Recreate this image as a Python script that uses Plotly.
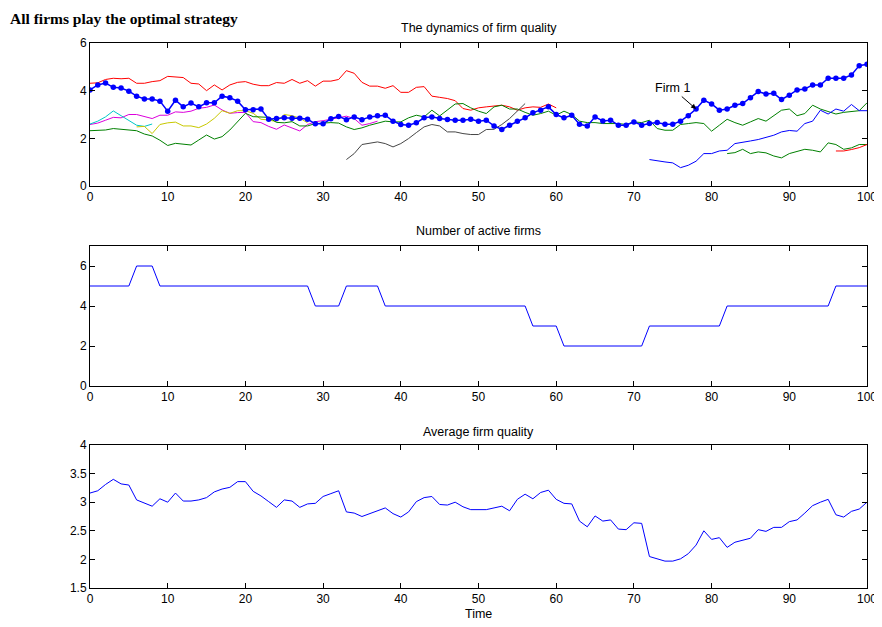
import plotly.graph_objects as go

# ---------------- data ----------------
time_all = list(range(0, 101))

firm1_q = [4.03, 4.24, 4.32, 4.14, 4.11, 3.98, 3.77, 3.65, 3.65, 3.56,
           3.14, 3.60, 3.32, 3.48, 3.32, 3.49, 3.49, 3.77, 3.70, 3.56,
           3.20, 3.20, 3.23, 2.80, 2.83, 2.86, 2.84, 2.84, 2.80, 2.61,
           2.61, 2.82, 2.92, 2.78, 2.90, 2.78, 2.90, 2.95, 2.97, 2.72,
           2.58, 2.55, 2.65, 2.86, 2.90, 2.83, 2.79, 2.76, 2.76, 2.80,
           2.72, 2.76, 2.52, 2.37, 2.55, 2.72, 2.86, 3.07, 3.18, 3.32,
           3.00, 2.86, 2.97, 2.59, 2.52, 2.90, 2.73, 2.76, 2.55, 2.55,
           2.69, 2.55, 2.62, 2.66, 2.59, 2.59, 2.72, 2.95, 3.23, 3.60,
           3.44, 3.18, 3.23, 3.39, 3.46, 3.70, 3.96, 3.86, 3.89, 3.63,
           3.81, 4.03, 4.07, 4.24, 4.24, 4.52, 4.52, 4.52, 4.66, 5.05,
           5.11]

red_start = 0
red_q = [4.31, 4.33, 4.47, 4.52, 4.50, 4.52, 4.31, 4.31, 4.38, 4.42,
         4.60, 4.56, 4.55, 4.31, 4.28, 4.00, 4.24, 4.03, 4.24, 4.35,
         4.38, 4.27, 4.21, 4.21, 4.34, 4.31, 4.47, 4.31, 4.42, 4.19,
         4.40, 4.40, 4.47, 4.84, 4.73, 4.35, 4.19, 4.19, 4.10, 4.21,
         3.93, 3.93, 4.14, 4.17, 3.77, 3.72, 3.67, 3.58, 3.25, 3.18,
         3.28, 3.32, 3.35, 3.39, 3.32, 3.18, 3.28, 3.32, 3.30, 3.44,
         3.28]

magenta_start = 0
magenta_q = [2.58, 2.64, 2.76, 2.88, 2.86, 3.00, 3.00, 2.90, 2.83, 2.97,
             2.97, 3.11, 3.09, 3.14, 3.26, 3.30, 3.40, 3.19, 3.05, 3.08,
             3.09, 2.70, 2.66, 2.50, 2.38, 2.56, 2.45, 2.31, 2.58, 2.70,
             2.74, 2.80, 2.88, 2.93, 2.83, 2.55, 2.62, 2.72]

cyan_start = 0
cyan_q = [2.60, 2.72, 2.90, 3.15, 2.95, 2.75, 2.55, 2.50, 2.60]

yellow_start = 6
yellow_q = [2.48, 2.50, 2.20, 2.58, 2.65, 2.68, 2.52, 2.52, 2.45, 2.60,
            2.84, 3.16, 3.05, 3.16, 3.16, 3.05, 2.80, 2.77, 2.70, 3.00,
            2.95, 2.85, 2.65]

green_start = 0
green_q = [2.32, 2.32, 2.35, 2.41, 2.38, 2.32, 2.32, 2.18, 2.10, 1.92,
           1.70, 1.79, 1.76, 1.72, 1.93, 2.14, 1.97, 2.07, 2.35, 2.70,
           3.05, 2.91, 2.90, 2.88, 2.67, 2.65, 2.70, 2.52, 2.52, 2.62,
           2.64, 2.66, 2.64, 2.48, 2.37, 2.44, 2.55, 2.65, 2.72, 2.69,
           2.69, 2.86, 2.97, 2.90, 3.18, 2.94, 3.18, 3.44, 3.46, 3.28,
           3.14, 3.04, 3.32, 3.39, 3.23, 3.23, 3.09, 2.97, 3.04, 3.14,
           2.97, 3.14, 3.00, 2.72, 2.66, 2.66, 2.62, 2.62, 2.62, 2.58,
           2.69, 2.66, 2.76, 2.41, 2.34, 2.34, 2.58, 2.62, 2.66, 2.62,
           2.30, 2.55, 2.80, 2.66, 2.55, 2.69, 2.83, 2.72, 2.97, 3.18,
           3.23, 2.95, 3.04, 3.39, 3.23, 3.11, 3.02, 3.09, 3.11, 3.16,
           3.49]

gray_start = 33
gray_q = [1.11, 1.36, 1.74, 1.78, 1.85, 1.78, 1.64, 1.78, 1.99, 2.24,
          2.48, 2.58, 2.52, 2.27, 2.27, 2.20, 2.16, 2.16, 2.37, 2.38,
          2.58, 2.83, 3.14, 3.46]

blue_start = 72
blue_q = [1.11, 1.05, 1.01, 0.97, 0.77, 0.87, 1.04, 1.36, 1.36, 1.47,
          1.50, 1.78, 1.85, 1.89, 1.95, 2.03, 2.13, 2.27, 2.33, 2.30,
          2.62, 2.72, 3.18, 3.02, 3.23, 3.14, 3.42, 3.16, 3.16]

green2_start = 82
green2_q = [1.36, 1.40, 1.54, 1.36, 1.43, 1.39, 1.26, 1.18, 1.36, 1.46,
            1.54, 1.50, 1.43, 1.81, 1.74, 1.54, 1.60, 1.74, 1.74]

red2_start = 96
red2_q = [1.47, 1.47, 1.53, 1.61, 1.74]

active_firms = [5, 5, 5, 5, 5, 5, 6, 6, 6, 5,
                5, 5, 5, 5, 5, 5, 5, 5, 5, 5,
                5, 5, 5, 5, 5, 5, 5, 5, 5, 4,
                4, 4, 4, 5, 5, 5, 5, 5, 4, 4,
                4, 4, 4, 4, 4, 4, 4, 4, 4, 4,
                4, 4, 4, 4, 4, 4, 4, 3, 3, 3,
                3, 2, 2, 2, 2, 2, 2, 2, 2, 2,
                2, 2, 3, 3, 3, 3, 3, 3, 3, 3,
                3, 3, 4, 4, 4, 4, 4, 4, 4, 4,
                4, 4, 4, 4, 4, 4, 5, 5, 5, 5,
                5]

avg_quality = [3.16, 3.20, 3.31, 3.40, 3.32, 3.30, 3.04, 2.99, 2.93, 3.06,
               3.00, 3.16, 3.02, 3.02, 3.04, 3.08, 3.18, 3.23, 3.26, 3.36,
               3.36, 3.19, 3.11, 3.01, 2.91, 3.04, 3.02, 2.91, 2.97, 2.98,
               3.10, 3.15, 3.20, 2.83, 2.81, 2.75, 2.80, 2.85, 2.90, 2.80,
               2.74, 2.83, 3.01, 3.08, 3.10, 2.96, 2.95, 3.00, 2.92, 2.87,
               2.87, 2.87, 2.90, 2.93, 2.85, 3.05, 3.14, 3.06, 3.17, 3.21,
               3.05, 2.98, 2.97, 2.67, 2.57, 2.76, 2.67, 2.69, 2.53, 2.52,
               2.64, 2.63, 2.05, 2.01, 1.97, 1.97, 2.01, 2.10, 2.25, 2.50,
               2.35, 2.38, 2.21, 2.30, 2.33, 2.37, 2.52, 2.49, 2.56, 2.56,
               2.66, 2.69, 2.81, 2.94, 3.00, 3.05, 2.78, 2.74, 2.84, 2.88,
               3.00]

x_ticks = list(range(0, 101, 10))

# ---------------- figure ----------------
fig = go.Figure()

thin = [
    (red_start, red_q, "rgb(255,0,0)"),
    (magenta_start, magenta_q, "rgb(220,0,220)"),
    (cyan_start, cyan_q, "rgb(0,200,200)"),
    (yellow_start, yellow_q, "rgb(200,200,0)"),
    (green_start, green_q, "rgb(0,128,0)"),
    (gray_start, gray_q, "rgb(70,70,70)"),
    (blue_start, blue_q, "rgb(0,0,255)"),
    (green2_start, green2_q, "rgb(0,128,0)"),
    (red2_start, red2_q, "rgb(255,0,0)"),
]
for start, vals, col in thin:
    fig.add_trace(go.Scatter(
        x=list(range(start, start + len(vals))), y=vals, mode="lines",
        line=dict(color=col, width=1), xaxis="x", yaxis="y", showlegend=False))

fig.add_trace(go.Scatter(
    x=time_all, y=firm1_q, mode="lines+markers",
    line=dict(color="rgb(0,0,255)", width=1.5),
    marker=dict(color="rgb(0,0,255)", size=5.5),
    xaxis="x", yaxis="y", showlegend=False))

fig.add_trace(go.Scatter(
    x=time_all, y=active_firms, mode="lines",
    line=dict(color="rgb(0,0,255)", width=1),
    xaxis="x2", yaxis="y2", showlegend=False))

fig.add_trace(go.Scatter(
    x=time_all, y=avg_quality, mode="lines",
    line=dict(color="rgb(0,0,255)", width=1),
    xaxis="x3", yaxis="y3", showlegend=False))

axis_font = dict(family="Liberation Sans, Arial, Helvetica, sans-serif", size=12, color="black")
common = dict(showline=True, linecolor="black", linewidth=1, mirror="ticks",
              ticks="inside", ticklen=5, tickcolor="black", showgrid=False,
              zeroline=False, tickfont=axis_font)

# page body has an 8px margin, so the figure is shifted by 8px
H_TOTAL = 545.0
def dom(top_px, bot_px):
    return [1 - bot_px / H_TOTAL, 1 - top_px / H_TOTAL]

fig.update_layout(
    width=882, height=627,
    margin=dict(l=82, r=23, t=35, b=47),
    paper_bgcolor="white", plot_bgcolor="white",
    font=axis_font,
    xaxis=dict(domain=[0, 1], range=[0, 100], tickvals=x_ticks, anchor="y", **common),
    yaxis=dict(domain=dom(0, 143), range=[0, 6], tickvals=[0, 2, 4, 6], anchor="x", **common),
    xaxis2=dict(domain=[0, 1], range=[0, 100], tickvals=x_ticks, anchor="y2", **common),
    yaxis2=dict(domain=dom(203, 343), range=[0, 7], tickvals=[0, 2, 4, 6], anchor="x2", **common),
    xaxis3=dict(domain=[0, 1], range=[0, 100], tickvals=x_ticks, anchor="y3", **common),
    yaxis3=dict(domain=dom(402, 545), range=[1.5, 4], tickvals=[1.5, 2, 2.5, 3, 3.5, 4],
                ticktext=["1.5", "2", "2.5", "3", "3.5", "4"], anchor="x3", **common),
)

title_font = dict(family="Liberation Sans, Arial, Helvetica, sans-serif", size=12.5, color="black")
annotations = [
    dict(text="<b>All firms play the optimal strategy</b>", xref="paper", yref="paper",
         x=-82 / 777, y=1 + 35 / H_TOTAL, xanchor="left", yanchor="top", showarrow=False,
         font=dict(family="Liberation Serif, Times New Roman, serif", size=15.5, color="black")),
    dict(text="The dynamics of firm quality", xref="paper", yref="paper",
         x=0.5, y=1 + 15 / H_TOTAL, xanchor="center", yanchor="middle", showarrow=False,
         font=title_font),
    dict(text="Number of active firms", xref="paper", yref="paper",
         x=0.5, y=1 - 188 / H_TOTAL, xanchor="center", yanchor="middle", showarrow=False,
         font=title_font),
    dict(text="Average firm quality", xref="paper", yref="paper",
         x=0.5, y=1 - 389 / H_TOTAL, xanchor="center", yanchor="middle", showarrow=False,
         font=title_font),
    dict(text="Time", xref="paper", yref="paper",
         x=0.5, y=-26 / H_TOTAL, xanchor="center", yanchor="middle", showarrow=False,
         font=title_font),
    dict(text="Firm 1", xref="x", yref="y", x=78, y=3.23, ax=-24, ay=-21,
         showarrow=True, arrowhead=2, arrowsize=1, arrowwidth=1, arrowcolor="black",
         font=dict(family="Liberation Sans, Arial, sans-serif", size=12.5, color="black")),
]
fig.update_layout(annotations=annotations)

fig.write_html("out.html")
